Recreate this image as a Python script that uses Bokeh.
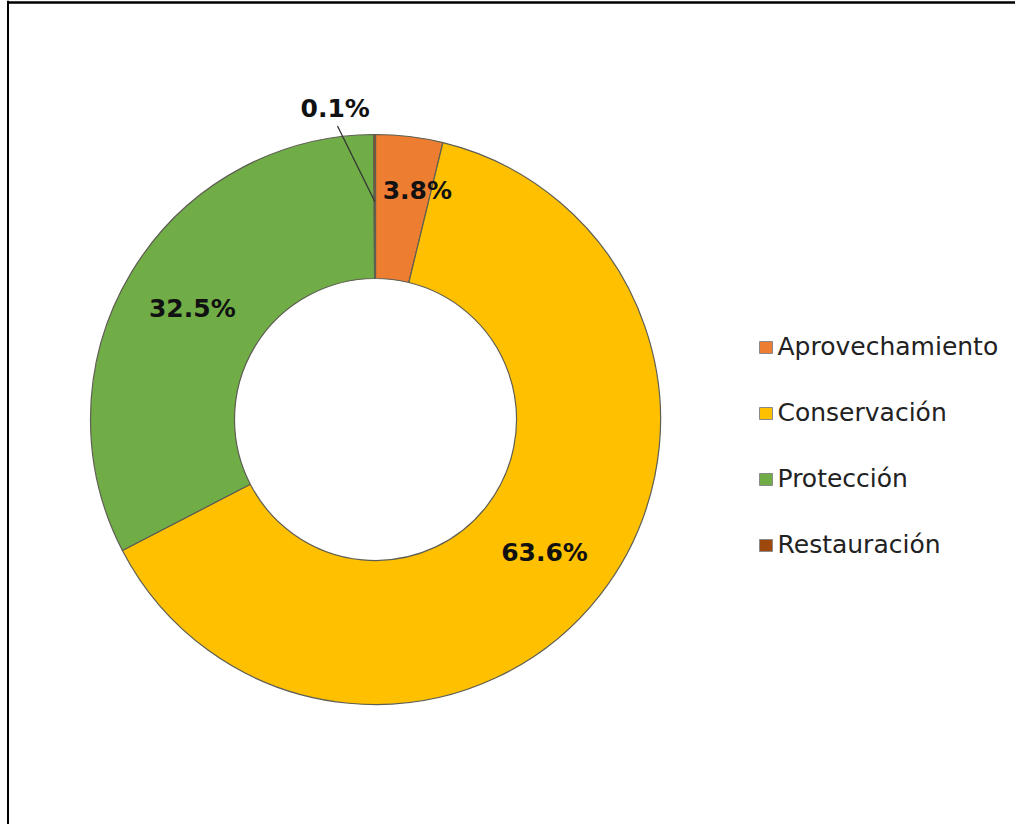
import numpy as np
from bokeh.plotting import figure
from bokeh.models import Range1d, Span, ColumnDataSource
from bokeh.core.properties import value
from bokeh.embed import file_html
from bokeh.resources import INLINE

# ---- data ----
categories = ["Aprovechamiento", "Conservación", "Protección", "Restauración"]
values = [3.8, 63.6, 32.5, 0.1]
labels = ["3.8%", "63.6%", "32.5%", "0.1%"]
colors = ["#ED7D31", "#FFC000", "#70AD47", "#9E480E"]

# ---- layout (image pixel coordinates; y is negated image y) ----
W, H = 1015, 824
cx, cy = 375.0, -419.0
r_out, r_in = 285.0, 141.0
lab_r = [233.0, 215.0, 214.0, 314.0]
lab_nudge_deg = [-3.5, 0.0, 0.0, 7.2]

p = figure(width=W, height=H, output_backend="svg", toolbar_location=None,
           x_range=Range1d(0, W), y_range=Range1d(-H, 0),
           min_border=0, outline_line_color=None)
p.axis.visible = False
p.grid.visible = False
p.background_fill_color = "white"

vals = np.array(values, dtype=float)
tot = vals.sum()
cum_after = np.cumsum(vals) / tot
cum_before = cum_after - vals / tot
start = np.pi / 2 - 2 * np.pi * cum_before
end = np.pi / 2 - 2 * np.pi * cum_after
mid = (start + end) / 2

src = ColumnDataSource(dict(start=start, end=end, color=colors, cat=categories))
p.annular_wedge(x=cx, y=cy, inner_radius=r_in, outer_radius=r_out,
                start_angle="start", end_angle="end", direction="clock",
                fill_color="color", line_color="#5e5e52", line_width=1.2,
                source=src)

# data labels
la = mid + np.deg2rad(lab_nudge_deg)
lx = cx + np.array(lab_r) * np.cos(la)
ly = cy + np.array(lab_r) * np.sin(la)
p.text(x=lx, y=ly, text=labels, text_font=value("DejaVu Sans"),
       text_font_style="bold", text_font_size="25px", text_color="#111111",
       text_align="center", text_baseline="middle")

# leader line for the tiny slice
i = 3
r_mid = (r_in + r_out) / 2 + 5
x0 = cx + (lab_r[i] - 18) * np.cos(la[i])
y0 = cy + (lab_r[i] - 18) * np.sin(la[i])
x1 = cx + r_mid * np.cos(mid[i])
y1 = cy + r_mid * np.sin(mid[i])
p.segment(x0=[x0], y0=[y0], x1=[x1], y1=[y1], line_color="#333333", line_width=1.3)

# legend (drawn manually)
leg_x, leg_y0, leg_dy = 765.5, -347.0, 66.0
ly_leg = [leg_y0 - k * leg_dy for k in range(len(categories))]
p.rect(x=[leg_x] * len(categories), y=ly_leg, width=13, height=12,
       fill_color=colors, line_color="#8a8a8a", line_width=1)
p.text(x=[leg_x + 11.5] * len(categories), y=[v + 1 for v in ly_leg], text=categories,
       text_font=value("DejaVu Sans"), text_font_size="25px",
       text_color="#222222", text_align="left", text_baseline="middle")

# frame lines (top and left)
p.segment(x0=[6.5], y0=[-2], x1=[W], y1=[-2], line_color="black", line_width=2.5)
p.add_layout(Span(location=7.5, dimension="height", line_color="black", line_width=2))

open("out.html", "w").write(file_html(p, INLINE))
